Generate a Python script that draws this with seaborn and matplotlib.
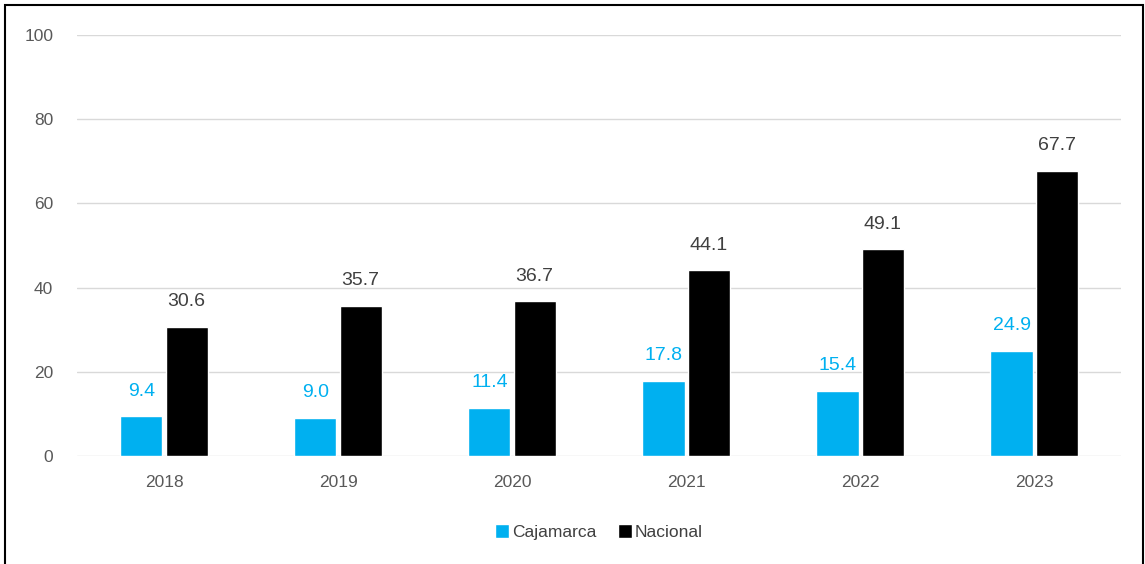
import pandas as pd
import seaborn as sns
import matplotlib.pyplot as plt
from matplotlib.patches import Rectangle

# Datos
anios = ["2018", "2019", "2020", "2021", "2022", "2023"]
cajamarca = [9.4, 9.0, 11.4, 17.8, 15.4, 24.9]
nacional = [30.6, 35.7, 36.7, 44.1, 49.1, 67.7]

df = pd.DataFrame({
    "Año": anios * 2,
    "Valor": cajamarca + nacional,
    "Serie": ["Cajamarca"] * len(anios) + ["Nacional"] * len(anios),
})

colores = {"Cajamarca": "#00B0F0", "Nacional": "#000000"}
color_etiqueta = {"Cajamarca": "#00B0F0", "Nacional": "#404040"}

sns.set_theme(style="white")
plt.rcParams["font.family"] = ["Liberation Sans", "DejaVu Sans"]

fig = plt.figure(figsize=(11.45, 5.64), dpi=100)
ax = fig.add_axes([0.0672, 0.1915, 0.912, 0.7465])

sns.barplot(data=df, x="Año", y="Valor", hue="Serie", palette=colores,
            width=0.52, gap=0.07, saturation=1, ax=ax, legend=True)

# Etiquetas de datos
for cont, serie in zip(ax.containers, ["Cajamarca", "Nacional"]):
    ax.bar_label(cont, fmt="%.1f", padding=12, fontsize=14,
                 color=color_etiqueta[serie])

ax.set_ylim(0, 100)
ax.set_yticks(range(0, 101, 20))
ax.yaxis.grid(True, color="#D9D9D9", linewidth=1)
ax.set_axisbelow(True)
for s in ax.spines.values():
    s.set_visible(False)
ax.tick_params(axis="both", length=0, labelsize=12.5, labelcolor="#595959")
ax.tick_params(axis="x", pad=14)
ax.tick_params(axis="y", pad=17)
ax.set_xlabel("")
ax.set_ylabel("")

ax.legend(loc="center", bbox_to_anchor=(0.5, -0.18), ncol=2, frameon=False,
          fontsize=12.5, handlelength=0.8, handleheight=0.9, handletextpad=0.2,
          columnspacing=1.2, labelcolor="#404040")

# Marco del gráfico
fig.add_artist(Rectangle((0.0045, -0.02), 0.9935, 1.011, transform=fig.transFigure,
                         fill=False, edgecolor="black", linewidth=1.5))

fig.savefig("out.png", dpi=100)
